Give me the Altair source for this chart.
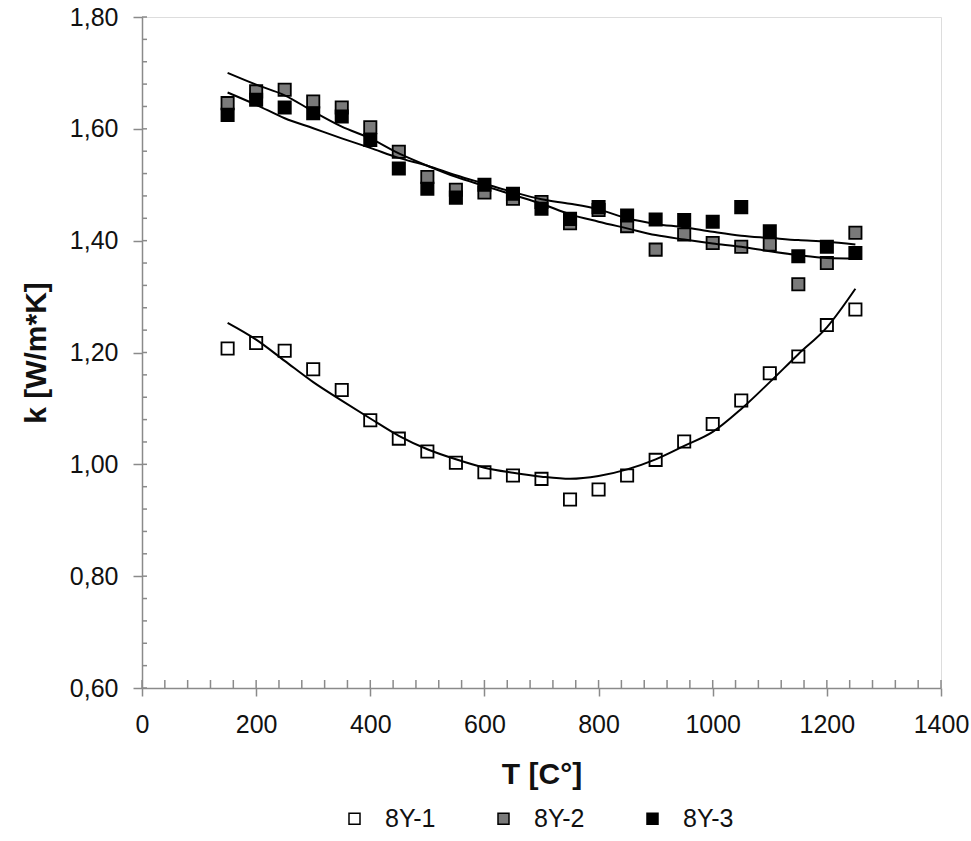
import altair as alt
import pandas as pd

# Measurement temperatures, °C
temps = [150, 200, 250, 300, 350, 400, 450, 500, 550, 600, 650, 700,
         750, 800, 850, 900, 950, 1000, 1050, 1100, 1150, 1200, 1250]

# Measured thermal conductivity, W/m*K
k_8y1 = [1.207, 1.217, 1.203, 1.170, 1.133, 1.079, 1.046, 1.023, 1.003, 0.986, 0.980, 0.974,
         0.937, 0.955, 0.980, 1.008, 1.041, 1.072, 1.114, 1.163, 1.193, 1.249, 1.277]
k_8y2 = [1.646, 1.667, 1.670, 1.649, 1.638, 1.603, 1.559, 1.514, 1.491, 1.486, 1.475, 1.469,
         1.431, 1.455, 1.426, 1.384, 1.411, 1.396, 1.389, 1.393, 1.322, 1.360, 1.414]
k_8y3 = [1.625, 1.652, 1.638, 1.628, 1.622, 1.580, 1.529, 1.493, 1.477, 1.500, 1.484, 1.457,
         1.439, 1.460, 1.445, 1.438, 1.437, 1.434, 1.460, 1.417, 1.372, 1.389, 1.378]

# Trend curves through each series
fit_8y1 = [1.253, 1.223, 1.185, 1.147, 1.114, 1.082, 1.051, 1.027, 1.009, 0.994, 0.985, 0.978,
           0.974, 0.979, 0.991, 1.009, 1.033, 1.058, 1.099, 1.147, 1.197, 1.245, 1.314]
fit_8y2 = [1.700, 1.679, 1.660, 1.631, 1.604, 1.583, 1.556, 1.534, 1.514, 1.498, 1.482, 1.466,
           1.447, 1.434, 1.422, 1.410, 1.402, 1.395, 1.389, 1.381, 1.374, 1.369, 1.368]
fit_8y3 = [1.665, 1.643, 1.619, 1.601, 1.583, 1.566, 1.548, 1.534, 1.517, 1.502, 1.487, 1.474,
           1.466, 1.456, 1.440, 1.430, 1.424, 1.416, 1.409, 1.405, 1.401, 1.398, 1.393]

series_names = ["8Y-1", "8Y-2", "8Y-3"]
series_fills = ["#ffffff", "#7a7a7a", "#000000"]

x_ticks = [0, 200, 400, 600, 800, 1000, 1200, 1400]
y_ticks = [0.6, 0.8, 1.0, 1.2, 1.4, 1.6, 1.8]
x_minor = list(range(0, 1401, 40))
y_minor = [round(0.6 + 0.04 * i, 2) for i in range(31)]

points = pd.DataFrame(
    [{"series": s, "T": t, "k": v}
     for s, vals in zip(series_names, [k_8y1, k_8y2, k_8y3])
     for t, v in zip(temps, vals)]
)
fits = pd.DataFrame(
    [{"series": s, "T": t, "k": v}
     for s, vals in zip(series_names, [fit_8y1, fit_8y2, fit_8y3])
     for t, v in zip(temps, vals)]
)

W, H = 799, 671
FONT = "Liberation Sans"
AXIS = "#8a8a8a"
INK = "#111111"

x_scale = alt.Scale(domain=[0, 1400], nice=False, zero=False)
y_scale = alt.Scale(domain=[0.6, 1.8], nice=False, zero=False)

x_axis = alt.Axis(
    values=x_ticks, format="d", grid=False, tickSize=8, tickWidth=1.5, tickColor=AXIS,
    domainColor=AXIS, domainWidth=1.5, labelFont=FONT, labelFontSize=25,
    labelColor=INK, labelPadding=16, labelFlush=False, labelOverlap=False,
    title="T [C°]", titleFont=FONT, titleFontSize=30, titleFontWeight="bold",
    titleColor=INK, titleBaseline="alphabetic", titleY=95,
)
y_axis = alt.Axis(
    values=y_ticks, grid=False, tickSize=9, tickWidth=1.5, tickColor=AXIS,
    domainColor=AXIS, domainWidth=1.5, labelFont=FONT, labelFontSize=25,
    labelColor=INK, labelPadding=15, labelFlush=False, labelOverlap=False,
    labelExpr="replace(format(datum.value, '.2f'), '.', ',')",
    title="k [W/m*K]", titleFont=FONT, titleFontSize=30, titleFontWeight="bold",
    titleColor=INK, titleAngle=270, titleBaseline="alphabetic",
    titleAlign="center", titleX=-97, titleY=H / 2,
)

X = alt.X("T:Q", scale=x_scale, axis=x_axis)
Y = alt.Y("k:Q", scale=y_scale, axis=y_axis)

# inward tick marks along the bottom and left edges
x_tick_marks = alt.Chart(pd.DataFrame({"T": x_minor})).mark_rule(
    color=AXIS, strokeWidth=1.5
).encode(x=X, y=alt.value(H), y2=alt.value(H - 8))

y_tick_marks = alt.Chart(pd.DataFrame({"k": y_minor})).mark_rule(
    color=AXIS, strokeWidth=1.5
).encode(y=Y, x=alt.value(0), x2=alt.value(5))

markers = alt.Chart(points).mark_square(
    size=150, stroke="black", strokeWidth=1.8, opacity=1
).encode(
    x=X, y=Y,
    fill=alt.Fill(
        "series:N",
        scale=alt.Scale(domain=series_names, range=series_fills),
        legend=alt.Legend(
            orient="none", legendX=200, legendY=789, direction="horizontal",
            columns=3, title=None, padding=0, symbolType="square",
            symbolSize=121, symbolStrokeColor="black", symbolStrokeWidth=1.5,
            symbolOpacity=1, labelFont=FONT, labelFontSize=25,
            labelColor=INK, labelOffset=18, columnPadding=55,
        ),
    ),
)

curves = alt.Chart(fits).mark_line(
    color="black", strokeWidth=2, interpolate="monotone"
).encode(x=X, y=Y, detail="series:N")

chart = alt.layer(x_tick_marks, y_tick_marks, markers, curves).properties(
    width=W, height=H,
    autosize=alt.AutoSizeParams(type="none"),
    padding={"left": 142, "top": 17, "right": 30, "bottom": 153},
).configure_view(
    stroke=AXIS, strokeWidth=1.5
).configure(background="white")

chart.save("out.html", embed_options={"renderer": "svg", "actions": False})
